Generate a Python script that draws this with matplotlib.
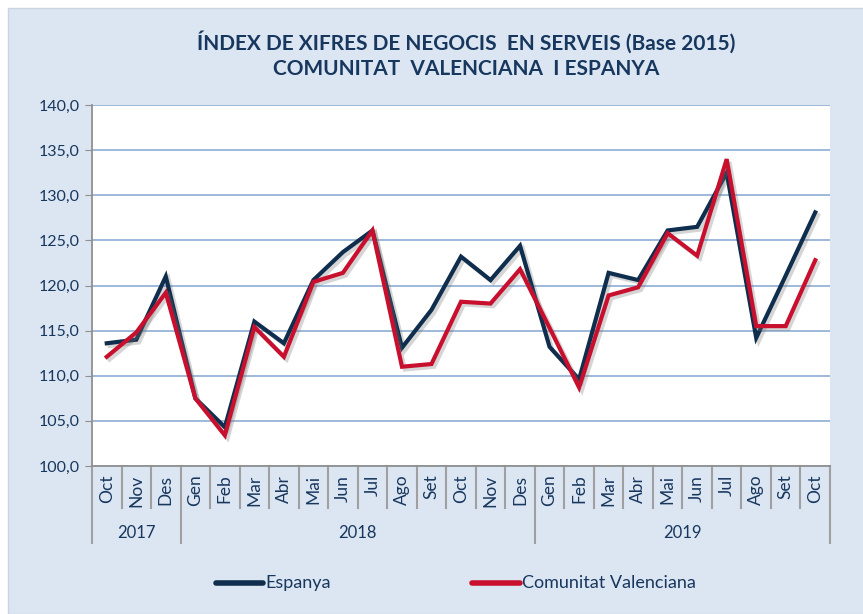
import matplotlib
matplotlib.use('Agg')
import matplotlib.pyplot as plt
import matplotlib.patheffects as pe
from matplotlib.patches import Rectangle

# Dades
mesos = ['Oct', 'Nov', 'Des',
         'Gen', 'Feb', 'Mar', 'Abr', 'Mai', 'Jun', 'Jul', 'Ago', 'Set', 'Oct', 'Nov', 'Des',
         'Gen', 'Feb', 'Mar', 'Abr', 'Mai', 'Jun', 'Jul', 'Ago', 'Set', 'Oct']
anys = ['2017', '2018', '2019']
mesos_per_any = [3, 12, 10]

espanya = [113.6, 114.0, 121.0, 107.5, 104.3, 116.0, 113.6, 120.6, 123.7, 126.1, 113.1, 117.3, 123.2,
           120.6, 124.4, 113.2, 109.6, 121.4, 120.6, 126.1, 126.5, 132.5, 114.2, 121.1, 128.1]
cv = [112.1, 114.8, 119.2, 107.5, 103.4, 115.4, 112.1, 120.4, 121.4, 126.1, 111.0, 111.3, 118.2,
      118.0, 121.8, 115.3, 108.7, 118.9, 119.8, 125.8, 123.3, 134.0, 115.5, 115.5, 122.8]

navy = '#0f2d4c'
vermell = '#c8102e'
text_col = '#17375e'
fons = '#dce6f2'

plt.rcParams['font.family'] = ['Lato', 'DejaVu Sans']

fig = plt.figure(figsize=(8.63, 6.14), dpi=100)
fig.patch.set_facecolor('white')
fig.patches.append(Rectangle((8 / 863, 0), 1, 1 - 8 / 614, transform=fig.transFigure,
                             facecolor=fons, edgecolor='#c9d5e3', lw=1, zorder=-10))

ax = fig.add_axes([92 / 863, 148 / 614, 738 / 863, 361 / 614])
ax.set_facecolor('white')

x = list(range(len(mesos)))
ombra = [pe.SimpleLineShadow(offset=(2, -2), shadow_color='#777777', alpha=0.3), pe.Normal()]
ax.plot(x, espanya, color=navy, lw=3.0, solid_joinstyle='miter', path_effects=ombra, zorder=3)
ax.plot(x, cv, color=vermell, lw=3.0, solid_joinstyle='miter', path_effects=ombra, zorder=4)

ax.set_ylim(100, 140)
ax.set_xlim(-0.5, len(mesos) - 0.5)
ax.set_yticks(range(100, 141, 5))
ax.set_yticklabels([f'{v},0' for v in range(100, 141, 5)], fontsize=11.5, color=text_col)
ax.yaxis.grid(True, color='#95b3d7', lw=1.3)
ax.set_axisbelow(True)
ax.set_xticks([])
ax.tick_params(axis='y', length=5, color='#909090', pad=4)
for s in ['top', 'right']:
    ax.spines[s].set_visible(False)
for s in ['left', 'bottom']:
    ax.spines[s].set_color('#909090')
    ax.spines[s].set_linewidth(1.3)

# Etiquetes de l'eix X
trans = ax.get_xaxis_transform()
for i, m in enumerate(mesos):
    ax.text(i, -0.024, m, rotation=90, ha='center', va='top', fontsize=12.5,
            color=text_col, transform=trans)

limits = [-0.5]
for n in mesos_per_any:
    limits.append(limits[-1] + n)
for i in range(len(mesos) + 1):
    xb = i - 0.5
    fons_y = -0.213 if xb in limits else -0.116
    ax.plot([xb, xb], [0, fons_y], color='#a0a0a0', lw=1.5, transform=trans, clip_on=False)
for j, a in enumerate(anys):
    centre = (limits[j] + limits[j + 1]) / 2
    ax.text(centre, -0.186, a, ha='center', va='center', fontsize=12,
            color=text_col, transform=trans)

fig.text(0.54, 0.932, 'ÍNDEX DE XIFRES DE NEGOCIS  EN SERVEIS (Base 2015)', ha='center', va='center',
         fontsize=15, fontweight='bold', color=text_col)
fig.text(0.54, 0.887, 'COMUNITAT  VALENCIANA  I ESPANYA', ha='center', va='center',
         fontsize=15, fontweight='bold', color=text_col)

# Llegenda
fig.lines.append(plt.Line2D([216 / 863, 263 / 863], [1 - 583 / 614] * 2, color=navy, lw=4,
                            solid_capstyle='round', transform=fig.transFigure))
fig.text(265 / 863, 1 - 583 / 614, 'Espanya', ha='left', va='center', fontsize=13, color=text_col)
fig.lines.append(plt.Line2D([472 / 863, 520 / 863], [1 - 583 / 614] * 2, color=vermell, lw=4,
                            solid_capstyle='round', transform=fig.transFigure))
fig.text(522 / 863, 1 - 583 / 614, 'Comunitat Valenciana', ha='left', va='center', fontsize=13,
         color=text_col)

plt.savefig('out.png', dpi=100)
plt.close()
